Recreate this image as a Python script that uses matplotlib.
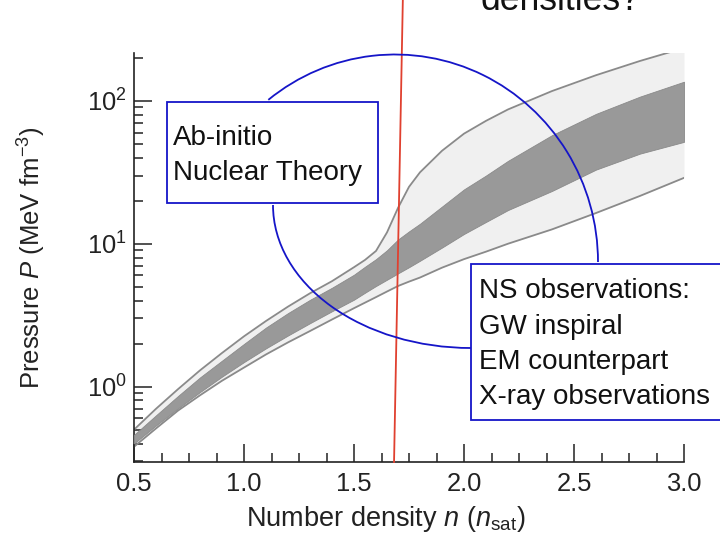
import numpy as np
import matplotlib
matplotlib.use("Agg")
import matplotlib.pyplot as plt
import matplotlib.transforms as mtransforms
from matplotlib.patches import Rectangle, Arc
from matplotlib.ticker import MultipleLocator

plt.rcParams['font.family'] = ['Liberation Sans', 'DejaVu Sans']
plt.rcParams['mathtext.fontset'] = 'custom'
plt.rcParams['mathtext.rm'] = 'Liberation Sans'
plt.rcParams['mathtext.it'] = 'Liberation Sans:italic'
plt.rcParams['mathtext.bf'] = 'Liberation Sans:bold'

# number density (units of n_sat)
n = [0.5, 0.6, 0.7, 0.8, 0.9, 1.0, 1.1, 1.2, 1.3, 1.4, 1.5, 1.55, 1.6, 1.65,
     1.7, 1.75, 1.8, 1.9, 2.0, 2.1, 2.2, 2.4, 2.6, 2.8, 3.0]

# pressure bands (MeV fm^-3): wide band and inner band
outer_hi = [0.50, 0.70, 0.96, 1.30, 1.72, 2.25, 2.88, 3.63, 4.50, 5.47, 6.85,
            7.7, 8.9, 12.0, 17.8, 25.0, 31.6, 44.7, 58.9, 72.4, 87.0, 117,
            151, 190, 234]
outer_lo = [0.38, 0.51, 0.68, 0.87, 1.10, 1.36, 1.68, 2.04, 2.45, 2.95, 3.54,
            3.87, 4.23, 4.63, 5.06, 5.43, 5.8, 6.8, 7.8, 8.8, 10.0, 12.6,
            16.4, 21.6, 28.9]
inner_hi = [0.46, 0.63, 0.86, 1.16, 1.52, 1.99, 2.59, 3.27, 4.05, 4.92, 6.07,
            6.9, 7.8, 9.0, 10.7, 12.2, 13.8, 18.2, 24.0, 30.0, 38.0, 57.5,
            81, 107, 136]
inner_lo = [0.40, 0.535, 0.705, 0.916, 1.175, 1.486, 1.854, 2.28, 2.78, 3.37,
            4.06, 4.54, 5.06, 5.6, 6.2, 6.85, 7.6, 9.4, 11.7, 14.2, 17.2,
            23.4, 33, 42.7, 51.6]

# density marker line
mark_n = [1.682, 1.722]
mark_p = [0.297, 510]

theory_text = "Ab-initio\nNuclear Theory"
obs_text = "NS observations:\nGW inspiral\nEM counterpart\nX-ray observations"

W, H = 720, 539
fig = plt.figure(figsize=(W / 100, H / 100), dpi=100)
ax = fig.add_axes([134 / W, 77 / H, 550 / W, 409 / H])

ax.fill_between(n, outer_lo, outer_hi, color='#f0f0f0', lw=0, zorder=1)
ax.plot(n, outer_hi, color='#8a8a8a', lw=1.3, zorder=2)
ax.plot(n, outer_lo, color='#8a8a8a', lw=1.3, zorder=2)
ax.fill_between(n, inner_lo, inner_hi, facecolor='#999999',
                edgecolor='#8a8a8a', lw=0.6, zorder=3)
ax.plot(mark_n, mark_p, color='#e0402f', lw=1.3, clip_on=False, zorder=4)

ax.set_yscale('log')
ax.set_xlim(0.5, 3.0)
ax.set_ylim(0.297, 216)
ax.xaxis.set_major_locator(MultipleLocator(0.5))
ax.xaxis.set_minor_locator(MultipleLocator(0.125))

for side in ('top', 'right'):
    ax.spines[side].set_visible(False)
for side in ('left', 'bottom'):
    ax.spines[side].set_linewidth(1.2)
    ax.spines[side].set_color('#222222')

ax.tick_params(which='both', direction='in', top=False, right=False,
               width=1.1, color='#222222', labelcolor='#222222')
ax.tick_params(which='major', length=13, labelsize=18.4)
ax.tick_params(which='minor', length=6.5)
ax.tick_params(axis='x', which='major', pad=7)
ax.tick_params(axis='y', which='major', pad=5)

ax.set_xlabel(r'Number density $n$ ($n_{\mathrm{sat}}$)', fontsize=19.5,
              color='#222222')
ax.set_ylabel(r'Pressure $P$ (MeV fm$^{-3}$)', fontsize=18.5,
              color='#222222')
ax.xaxis.set_label_coords(0.457, -0.103)
ax.yaxis.set_label_coords(-0.157, 0.5)

# overlay drawn in pixel units, origin at top-left
px = mtransforms.Affine2D().scale(1 / W, -1 / H).translate(0, 1) + fig.transFigure
blue = '#1515c8'

fig.add_artist(Arc((395, 262), 406, 415, theta1=232, theta2=360,
                   transform=px, color=blue, lw=1.3, zorder=1.5))
fig.add_artist(Arc((471, 205), 396, 286, theta1=90, theta2=180,
                   transform=px, color=blue, lw=1.3, zorder=1.5))

fig.add_artist(Rectangle((167, 102), 211, 101, transform=px, facecolor='white',
                         edgecolor=blue, lw=1.3, zorder=2))
fig.add_artist(Rectangle((471, 264), 300, 156, transform=px, facecolor='white',
                         edgecolor=blue, lw=1.3, zorder=2))

# multi-line text: baseline alignment refers to the last line
fig.text(172.7 / W, 1 - 180 / H, theory_text, fontsize=20, va='baseline',
         ha='left', linespacing=1.44, color='#111111', zorder=3)
fig.text(479 / W, 1 - 404 / H, obs_text, fontsize=20, va='baseline',
         ha='left', linespacing=1.46, color='#111111', zorder=3)

fig.text(480 / W, 1 - 10.5 / H, 'densities?', fontsize=25.6, va='baseline',
         ha='left', color='#111111')

fig.savefig('out.png', dpi=100)
